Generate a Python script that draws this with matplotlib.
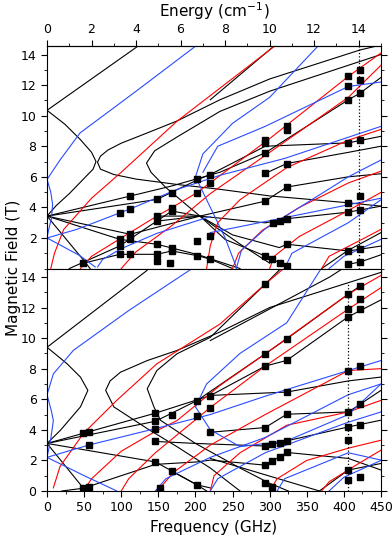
import matplotlib.pyplot as plt
from matplotlib.ticker import MultipleLocator, FixedLocator

# curves: (frequency GHz, field T)
top_black = [
    [(0, 10.35), (124, 14.6)],
    [(0, 10.35), (24, 9.44), (45, 8.43), (60, 7.6), (66, 7.0), (62, 6.5), (50, 5.9), (30, 4.9), (12, 4.1), (0, 3.43)],
    [(450, 14.62), (422, 14.3), (300, 12.4), (233, 11.04), (175, 9.65), (135, 8.87), (100, 8.2), (82, 7.75),
     (72, 7.35), (68, 6.95), (72, 6.5), (90, 6.15), (120, 5.85), (175, 5.5), (230, 5.2), (300, 4.75), (406, 4.3), (450, 4.08)],
    [(450, 14.0), (300, 11.6), (233, 10.28), (175, 8.6), (145, 7.7), (134, 6.9), (140, 6.3),
     (160, 5.3), (206, 3.43), (260, 1.6), (300, 0.35)],
    [(0, 3.43), (112, 4.74), (168, 5.4), (233, 6.3), (294, 7.57), (406, 11.04), (422, 11.48), (450, 12.5)],
    [(0, 3.43), (148, 4.52), (204, 5.83), (220, 6.15), (294, 8.0), (406, 8.22), (450, 8.65)],
    [(0, 3.43), (98, 1.91), (148, 1.59), (204, 0.9), (260, 0.0)],
    [(0, 3.43), (50, 0.5), (58, 0.0)],
    [(0, 3.43), (112, 2.24), (206, 3.43), (294, 2.99), (323, 3.26), (406, 3.69), (450, 4.08)],
    [(148, 3.43), (206, 3.43), (294, 4.41), (323, 5.33), (406, 6.0), (450, 6.2)],
    [(294, 6.22), (323, 6.87), (406, 7.6), (450, 8.0)],
    [(220, 11.04), (307, 14.6)],
    [(30, 0.0), (98, 1.48), (168, 3.76), (206, 3.43), (250, 2.2), (313, 1.37), (323, 1.59), (406, 1.15), (450, 1.47)],
    [(148, 3.1), (206, 3.43), (240, 1.9), (294, 0.82), (323, 0.17)],
    [(49, 0.35), (98, 0.93), (148, 0.93), (168, 1.15), (204, 0.83), (220, 0.61), (250, 0.0)],
    [(406, 0.28), (422, 0.43), (450, 0.9)],
    [(370, 0.0), (406, 1.2), (450, 2.35)],
]
top_red = [
    [(5, 0.0), (10, 1.0), (22.5, 2.56), (60, 4.6), (100, 6.3), (175, 9.63), (233, 11.8), (300, 14.3), (308, 14.6)],
    [(45, 0.0), (60, 0.8), (100, 2.0), (148, 3.43), (168, 3.98), (202, 4.96), (220, 5.61), (300, 8.5), (406, 12.57), (450, 14.1)],
    [(100, 0.0), (120, 1.1), (168, 2.8), (220, 4.9), (300, 7.6), (406, 11.2), (450, 13.3)],
    [(215, 0.0), (220, 1.5), (230, 3.0), (260, 4.5), (323, 6.6), (406, 8.4), (450, 9.1)],
    [(250, 0.0), (258, 1.0), (290, 2.5), (340, 4.0), (406, 5.6), (450, 6.37)],
    [(300, 0.0), (306, 0.8), (340, 2.1), (406, 3.8), (450, 4.98)],
    [(370, 0.0), (380, 0.8), (420, 1.8), (450, 2.56)],
]
top_blue = [
    [(0, 5.83), (17.5, 7.1), (44.5, 8.87), (120, 11.6), (201.6, 14.6)],
    [(0, 5.83), (5, 5.0), (7.5, 4.2), (6, 3.3), (2, 2.5), (0, 2.0)],
    [(0, 2.0), (40, 2.56), (112, 3.9), (175, 5.17), (233, 6.1), (320, 7.2), (450, 9.3)],
    [(0, 2.0), (44, 0.85), (65, 0.1)],
    [(68, 0.1), (75, 0.6), (100, 1.3), (148, 2.3), (220, 3.4)],
    [(200, 6.0), (210, 7.5), (250, 9.5), (300, 11.2), (366, 14.6)],
    [(200, 6.0), (215, 4.5), (240, 2.0), (255, 0.1)],
    [(210, 6.3), (230, 8.0), (294, 9.3), (406, 11.91), (450, 12.2)],
    [(255, 0.0), (262, 1.2), (294, 2.6), (406, 6.0), (450, 7.1)],
    [(220, 2.35), (309, 3.22), (450, 4.6)],
    [(320, 0.0), (330, 1.0), (406, 3.0), (450, 4.5)],
    [(380, 0.0), (400, 0.8), (450, 1.91)],
]
top_sq_f = [112, 98, 112, 148, 148, 148, 168, 168, 168, 202, 202, 220, 220, 98, 98, 112, 112, 148, 202, 220,
            294, 294, 294, 294, 294, 305, 314, 323, 323, 323, 323, 323, 323, 406, 406, 406, 406, 406, 406,
            422, 422, 422, 422, 422, 422, 294, 303, 314, 323, 406, 422, 406, 422,
            49, 98, 112, 148, 148, 166, 168, 168, 202, 220]
top_sq_B = [4.74, 3.65, 3.87, 4.52, 3.43, 3.11, 4.96, 3.98, 3.76, 5.83, 4.96, 6.15, 5.61, 1.91, 1.48, 2.24, 1.91, 1.59, 1.8, 2.13,
            8.44, 8.18, 7.57, 6.22, 4.41, 3.0, 3.11, 9.3, 9.08, 6.87, 5.33, 3.26, 1.59, 12.57, 11.91, 11.04, 8.22, 4.3, 3.69,
            13.0, 12.35, 11.48, 8.44, 4.74, 3.82, 0.82, 0.61, 0.34, 0.17, 1.15, 1.26, 0.28, 0.43,
            0.35, 0.93, 0.93, 0.93, 0.5, 0.39, 1.37, 1.15, 0.83, 0.61]

bot_black = [
    [(0, 9.4), (134, 14.4), (138, 14.6)],
    [(0, 9.4), (27, 8.32), (45, 7.45), (55, 6.58), (45, 5.5), (18, 3.97), (0, 3.11)],
    [(450, 14.3), (300, 12.0), (233, 10.4), (175, 9.19), (135, 8.53), (99, 7.77), (85, 7.2), (79, 6.58), (90, 5.5),
     (135, 4.08), (175, 2.9), (220, 1.5), (260, 0.0)],
    [(316, 14.6), (294, 13.53), (220, 10.05), (175, 8.97), (148, 7.88), (135, 6.69), (144, 5.5), (153, 4.62), (200, 3.11),
     (260, 1.5), (300, 0.5), (325, 0.0)],
    [(0, 3.11), (56, 3.87), (146, 5.09), (220, 6.24), (294, 8.17), (323, 8.54), (406, 11.4), (450, 12.5)],
    [(0, 3.11), (146, 4.56), (202, 5.91), (294, 8.97), (323, 9.95), (406, 12.88), (422, 13.42)],
    [(0, 3.11), (146, 1.9), (202, 0.4), (215, 0.0)],
    [(0, 3.11), (49, 0.18), (52, 0.0)],
    [(146, 3.24), (200, 3.11), (294, 2.94), (323, 3.28), (406, 4.19), (450, 4.63)],
    [(220, 3.84), (294, 4.15), (323, 5.02), (406, 5.17), (450, 6.58)],
    [(220, 6.25), (323, 6.47), (406, 7.2), (450, 7.45)],
    [(20, 0.0), (49, 0.18), (146, 1.74), (202, 1.9), (220, 2.02), (294, 1.69), (323, 2.52), (406, 2.13), (450, 1.37)],
    [(168, 1.3), (202, 0.4), (220, 0.2)],
    [(220, 2.13), (367, 0.0)],
    [(367, 0.0), (406, 1.37), (450, 1.8)],
    [(220, 9.84), (381, 14.0), (400, 14.6)],
]
bot_red = [
    [(8.5, 0.2), (17.5, 1.6), (49, 3.76), (94, 5.93), (148, 8.32), (233, 10.92), (294, 13.53), (320, 14.6)],
    [(49, 0.0), (60, 0.8), (100, 2.6), (146, 3.9), (175, 4.6), (233, 6.9), (294, 8.97), (406, 12.88), (450, 14.1)],
    [(100, 0.0), (110, 0.8), (146, 2.5), (220, 5.46), (294, 8.17), (406, 11.9), (450, 13.3)],
    [(146, 0.0), (152, 0.18), (170, 1.2), (220, 3.0), (294, 5.0), (406, 7.88), (450, 8.0)],
    [(220, 0.0), (225, 1.0), (260, 2.5), (323, 4.3), (406, 5.17), (450, 5.93)],
    [(300, 0.0), (310, 0.8), (350, 2.0), (406, 2.8), (450, 3.32)],
    [(370, 0.0), (380, 0.6), (420, 1.8), (450, 2.67)],
]
bot_blue = [
    [(0, 6.3), (8.5, 7.66), (35.5, 9.2), (110, 11.8), (197, 14.6)],
    [(0, 6.3), (6, 5.2), (8.5, 4.6), (5, 3.4), (0, 2.2)],
    [(0, 2.2), (56, 3.0), (146, 4.08), (220, 5.0), (294, 6.2), (406, 7.88), (450, 8.53)],
    [(0, 2.2), (50, 1.0), (94, 0.0)],
    [(200, 5.5), (215, 7.0), (260, 9.0), (323, 11.0), (370, 14.6)],
    [(200, 5.5), (220, 4.0), (260, 2.9), (323, 3.28), (406, 5.0), (450, 7.0)],
    [(146, 0.0), (160, 0.8), (220, 2.2), (294, 3.5), (406, 6.3), (450, 7.0)],
    [(220, 0.0), (230, 0.8), (294, 2.5), (406, 4.5), (450, 5.17)],
    [(310, 0.0), (320, 0.8), (406, 2.5), (450, 2.02)],
    [(380, 0.0), (400, 0.9), (450, 2.0)],
]
bot_sq_f = [49, 56, 56, 49, 56, 146, 146, 146, 168, 146, 146, 168, 152, 202, 220, 202, 220, 220, 202,
            294, 406, 422, 406, 422, 406, 422, 323, 294, 294, 323, 406, 422, 323, 406, 323, 422, 294, 406, 422, 406,
            294, 303, 314, 323, 323, 314, 303, 294, 294, 303, 406, 406, 422]
bot_sq_B = [3.8, 3.87, 3.0, 0.18, 0.28, 5.09, 4.56, 4.08, 5.0, 3.24, 1.9, 1.3, 0.18, 5.91, 6.24, 4.93, 5.46, 3.84, 0.4,
            13.53, 12.88, 13.42, 11.9, 12.55, 11.4, 11.9, 9.95, 8.97, 8.17, 8.54, 7.88, 8.2, 6.47, 5.17, 5.02, 5.67, 4.15, 4.19, 4.3, 3.33,
            2.94, 3.06, 3.17, 3.28, 2.52, 2.24, 1.98, 1.69, 0.5, 0.28, 1.37, 0.72, 0.89]

ghz_per_cm = 29.9792458
blue = '#2a4cff'

fig = plt.figure(figsize=(3.92, 5.36), dpi=100)
ax1 = fig.add_axes([0.120, 0.499, 0.852, 0.415])
ax2 = fig.add_axes([0.120, 0.084, 0.852, 0.415])


def draw(ax, blacks, reds, blues, sq_f, sq_B):
    for group, col in ((blacks, 'black'), (reds, 'red'), (blues, blue)):
        for c in group:
            ax.plot([p[0] for p in c], [p[1] for p in c], color=col, lw=0.8)
    ax.plot(sq_f, sq_B, 's', color='black', ms=4.3, ls='none')


draw(ax1, top_black, top_red, top_blue, top_sq_f, top_sq_B)
draw(ax2, bot_black, bot_red, bot_blue, bot_sq_f, bot_sq_B)

ax1.axvline(14 * ghz_per_cm, color='black', ls=':', lw=0.9)
ax2.plot([406, 406], [0, 13.6], color='black', ls=':', lw=0.9)

for ax in (ax1, ax2):
    ax.set_xlim(0, 450)
    ax.set_ylim(0, 14.55)
    ax.yaxis.set_major_locator(MultipleLocator(2))
    ax.yaxis.set_minor_locator(MultipleLocator(1))
    ax.xaxis.set_major_locator(MultipleLocator(50))
    ax.xaxis.set_minor_locator(MultipleLocator(25))
    ax.tick_params(which='both', direction='out', right=True, labelsize=9)
    ax.tick_params(which='major', length=4)
    ax.tick_params(which='minor', length=2)

ax1.tick_params(labelbottom=False)
ax1.yaxis.set_major_locator(FixedLocator([2, 4, 6, 8, 10, 12, 14]))
ax2.set_xlabel('Frequency (GHz)', fontsize=11)
fig.text(0.035, 0.5, 'Magnetic Field (T)', rotation=90, va='center', ha='center', fontsize=11)

top = ax1.secondary_xaxis('top', functions=(lambda f: f / ghz_per_cm, lambda e: e * ghz_per_cm))
top.xaxis.set_major_locator(FixedLocator([0, 2, 4, 6, 8, 10, 12, 14]))
top.xaxis.set_minor_locator(FixedLocator(list(range(0, 16))))
top.tick_params(which='both', direction='out', labelsize=9)
top.tick_params(which='major', length=4)
top.tick_params(which='minor', length=2)
top.set_xlabel('Energy (cm$^{-1}$)', fontsize=11)

fig.savefig('out.png', dpi=100)
